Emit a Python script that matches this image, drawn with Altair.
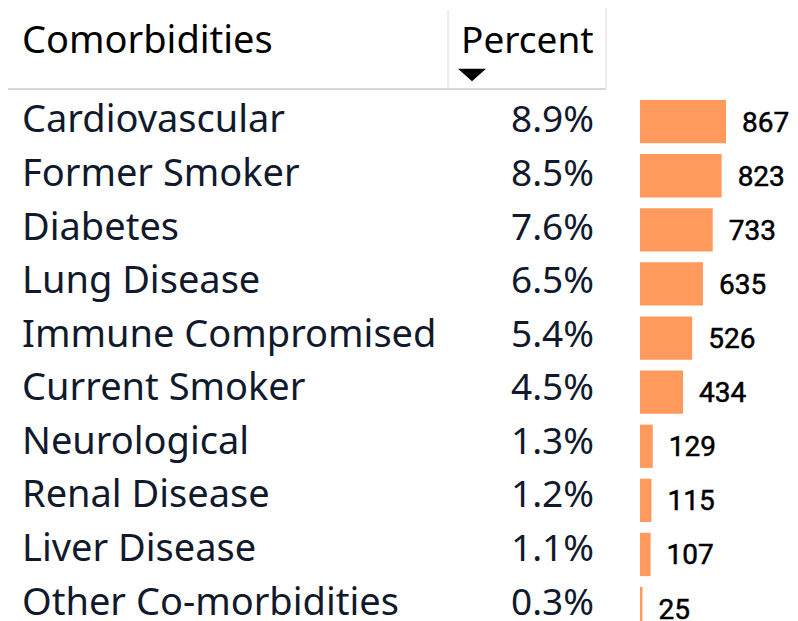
import altair as alt
import pandas as pd

names = ["Cardiovascular", "Former Smoker", "Diabetes", "Lung Disease",
         "Immune Compromised", "Current Smoker", "Neurological",
         "Renal Disease", "Liver Disease", "Other Co-morbidities"]
percents = ["8.9%", "8.5%", "7.6%", "6.5%", "5.4%", "4.5%", "1.3%", "1.2%", "1.1%", "0.3%"]
counts = [867, 823, 733, 635, 526, 434, 129, 115, 107, 25]

df = pd.DataFrame({"name": names, "pct": percents, "count": counts})

FONT = "Noto Sans"
TXT = "#111a2c"

y_txt = alt.Y("name:N", sort=names, axis=None,
              scale=alt.Scale(range=[84.7, 620.3], paddingInner=0.2, paddingOuter=0.1))
y_bar = alt.Y("name:N", sort=names, axis=None,
              scale=alt.Scale(range=[86.6, 627.6], paddingInner=0.2, paddingOuter=0.1))
xq = alt.X("count:Q", axis=None,
           scale=alt.Scale(domain=[0, max(counts)], range=[632, 718], nice=False, zero=True))

base = alt.Chart(df)

bars = base.mark_bar(color="#FF9A5C").encode(x=xq, y=y_bar)
cnt = base.mark_text(align="left", baseline="middle", dx=16, dy=2, font="Roboto",
                     fontSize=28, color="#000000", stroke="#000000",
                     strokeWidth=0.5).encode(x=xq, y=y_bar, text="count:Q")
lbl = base.mark_text(align="left", baseline="middle", dy=2, font=FONT, fontSize=38,
                     color=TXT).encode(x=alt.value(14), y=y_txt, text="name:N")
pct = base.mark_text(align="right", baseline="middle", dy=2, font=FONT, fontSize=37,
                     color=TXT).encode(x=alt.value(586), y=y_txt, text="pct:N")

table = alt.layer(lbl, pct)
barpart = alt.layer(bars, cnt)

hdr_df = pd.DataFrame({"a": ["Comorbidities"], "b": ["Percent"]})
hdr = alt.Chart(hdr_df)
h1 = hdr.mark_text(align="left", baseline="alphabetic", font=FONT, fontSize=38,
                   color="#000000").encode(x=alt.value(14), y=alt.value(45), text="a:N")
h2 = hdr.mark_text(align="left", baseline="alphabetic", font=FONT, fontSize=37,
                   color="#000000").encode(x=alt.value(453), y=alt.value(45), text="b:N")
tri = hdr.mark_point(shape="M-1,-0.45L1,-0.45L0,0.45Z", filled=True, opacity=1,
                     color="#000000", size=784).encode(x=alt.value(464), y=alt.value(67))
v1 = hdr.mark_rule(color="#dcdcdc", strokeWidth=1).encode(
    x=alt.value(440), y=alt.value(2), y2=alt.value(80))
v2 = hdr.mark_rule(color="#dcdcdc", strokeWidth=1).encode(
    x=alt.value(598), y=alt.value(0), y2=alt.value(80))
hl = hdr.mark_rule(color="#d6d6d6", strokeWidth=2).encode(
    x=alt.value(0), x2=alt.value(598), y=alt.value(81))

chart = alt.layer(table, barpart, h1, h2, tri, v1, v2, hl).resolve_scale(
    y="independent"
).properties(
    width=782, height=613,
    autosize=alt.AutoSizeParams(type="none"),
    padding=0,
).configure_view(stroke=None)

chart.save("out.html", embed_options={"renderer": "svg", "actions": False})
